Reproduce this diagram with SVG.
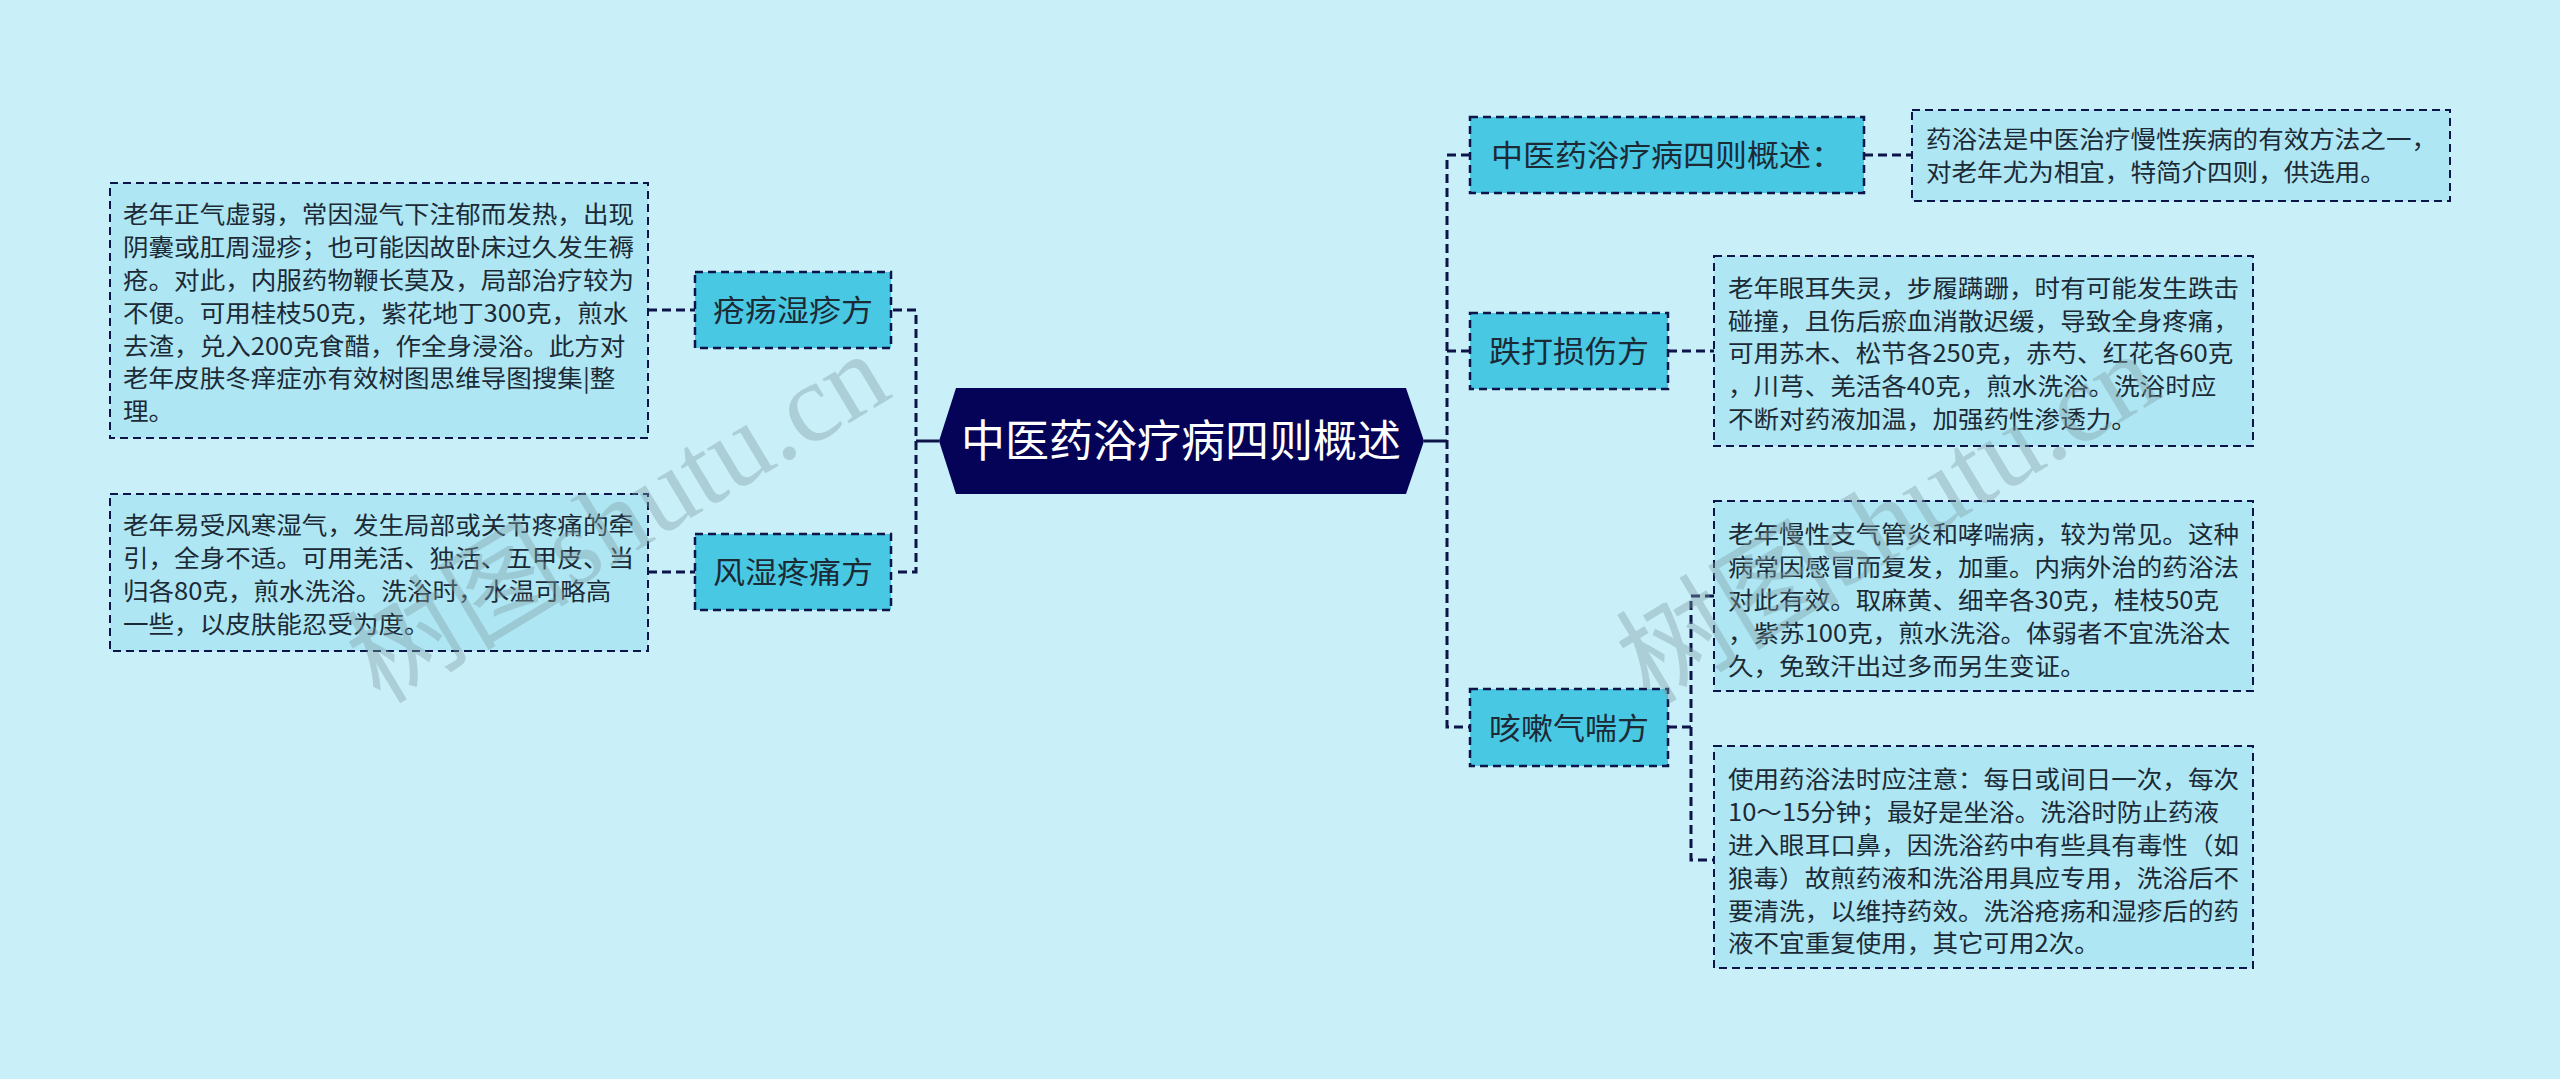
<svg xmlns="http://www.w3.org/2000/svg" width="2560" height="1079" viewBox="0 0 2560 1079">
<style>
.bg{fill:#c9eff8}
.box{fill:#aee6f3;stroke:#0c1449;stroke-width:2;stroke-dasharray:8 5}
.node{fill:#48c8e3;stroke:#0c1449;stroke-width:2.5;stroke-dasharray:8 5}
.desc{font-family:"Noto Sans CJK SC","Noto Sans",sans-serif;font-size:24px;fill:#1c2a36}
.ntxt{font-family:"Noto Sans CJK SC","Noto Sans",sans-serif;font-size:30px;fill:#1c2a36;text-anchor:middle}
.ttl{font-family:"Noto Sans CJK SC","Noto Sans",sans-serif;font-size:44px;fill:#ffffff;text-anchor:middle}
.dash{fill:none;stroke:#0c1449;stroke-width:3;stroke-dasharray:9 5}
.solid{fill:none;stroke:#0c1449;stroke-width:3}
.wm{font-family:"Liberation Serif","Noto Sans CJK SC",serif;font-size:112px;fill:#7f9ea6;opacity:0.4}
</style>
<rect class="bg" x="0" y="0" width="2560" height="1079"/>

<g id="connectors">
<path class="solid" d="M939,441 H916"/>
<path class="dash" d="M893,310 H916 V572 H893"/>
<path class="dash" d="M648,310 H695"/>
<path class="dash" d="M648,572 H695"/>
<path class="solid" d="M1424,441 H1447"/>
<path class="dash" d="M1470,155 H1447 V727 H1470"/>
<path class="dash" d="M1447,351 H1470"/>
<path class="dash" d="M1864,155 H1912"/>
<path class="dash" d="M1668,351 H1714"/>
<path class="dash" d="M1668,727 H1691"/>
<path class="dash" d="M1714,596 H1691 V860 H1714"/>
</g>

<g id="root">
<polygon points="956,388 1406,388 1424,441 1406,494 956,494 939,441" fill="#050357"/>
<text class="ttl" x="1181" y="457">中医药浴疗病四则概述</text>
</g>

<g id="n-chuangyang">
<rect class="node" x="695" y="272" width="196" height="76"/>
<text class="ntxt" transform="translate(793,0) scale(1.067,1)" x="0" y="321">疮疡湿疹方</text>
</g>
<g id="n-fengshi">
<rect class="node" x="695" y="534" width="196" height="76"/>
<text class="ntxt" transform="translate(793,0) scale(1.067,1)" x="0" y="583">风湿疼痛方</text>
</g>
<g id="n-gaishu">
<rect class="node" x="1470" y="117" width="394" height="76"/>
<text class="ntxt" transform="translate(1667,0) scale(1.067,1)" x="0" y="166">中医药浴疗病四则概述：</text>
</g>
<g id="n-dieda">
<rect class="node" x="1470" y="313" width="198" height="76"/>
<text class="ntxt" transform="translate(1569,0) scale(1.067,1)" x="0" y="362">跌打损伤方</text>
</g>
<g id="n-kesou">
<rect class="node" x="1470" y="689" width="198" height="77"/>
<text class="ntxt" transform="translate(1569,0) scale(1.067,1)" x="0" y="739">咳嗽气喘方</text>
</g>

<g id="d-chuangyang">
<rect class="box" x="110" y="183" width="538" height="255"/>
<text class="desc" transform="translate(123,0) scale(1.065,1)">
<tspan x="0" y="223.4">老年正气虚弱，常因湿气下注郁而发热，出现</tspan>
<tspan x="0" y="256.2">阴囊或肛周湿疹；也可能因故卧床过久发生褥</tspan>
<tspan x="0" y="289">疮。对此，内服药物鞭长莫及，局部治疗较为</tspan>
<tspan x="0" y="321.8">不便。可用桂枝50克，紫花地丁300克，煎水</tspan>
<tspan x="0" y="354.6">去渣，兑入200克食醋，作全身浸浴。此方对</tspan>
<tspan x="0" y="387.4">老年皮肤冬痒症亦有效树图思维导图搜集|整</tspan>
<tspan x="0" y="420.2">理。</tspan>
</text>
</g>
<g id="d-fengshi">
<rect class="box" x="110" y="494" width="538" height="157"/>
<text class="desc" transform="translate(123,0) scale(1.065,1)">
<tspan x="0" y="534.3">老年易受风寒湿气，发生局部或关节疼痛的牵</tspan>
<tspan x="0" y="567.1">引，全身不适。可用羌活、独活、五甲皮、当</tspan>
<tspan x="0" y="599.9">归各80克，煎水洗浴。洗浴时，水温可略高</tspan>
<tspan x="0" y="632.7">一些，以皮肤能忍受为度。</tspan>
</text>
</g>
<g id="d-gaishu">
<rect class="box" x="1912" y="110" width="538" height="91"/>
<text class="desc" transform="translate(1926,0) scale(1.065,1)">
<tspan x="0" y="148.5">药浴法是中医治疗慢性疾病的有效方法之一，</tspan>
<tspan x="0" y="181.3">对老年尤为相宜，特简介四则，供选用。</tspan>
</text>
</g>
<g id="d-dieda">
<rect class="box" x="1714" y="256" width="539" height="190"/>
<text class="desc" transform="translate(1728,0) scale(1.065,1)">
<tspan x="0" y="296.9">老年眼耳失灵，步履蹒跚，时有可能发生跌击</tspan>
<tspan x="0" y="329.7">碰撞，且伤后瘀血消散迟缓，导致全身疼痛，</tspan>
<tspan x="0" y="362.5">可用苏木、松节各250克，赤芍、红花各60克</tspan>
<tspan x="0" y="395.3">，川芎、羌活各40克，煎水洗浴。洗浴时应</tspan>
<tspan x="0" y="428.1">不断对药液加温，加强药性渗透力。</tspan>
</text>
</g>
<g id="d-kesou1">
<rect class="box" x="1714" y="501" width="539" height="190"/>
<text class="desc" transform="translate(1728,0) scale(1.065,1)">
<tspan x="0" y="543.5">老年慢性支气管炎和哮喘病，较为常见。这种</tspan>
<tspan x="0" y="576.3">病常因感冒而复发，加重。内病外治的药浴法</tspan>
<tspan x="0" y="609.1">对此有效。取麻黄、细辛各30克，桂枝50克</tspan>
<tspan x="0" y="641.9">，紫苏100克，煎水洗浴。体弱者不宜洗浴太</tspan>
<tspan x="0" y="674.7">久，免致汗出过多而另生变证。</tspan>
</text>
</g>
<g id="d-kesou2">
<rect class="box" x="1714" y="746" width="539" height="222"/>
<text class="desc" transform="translate(1728,0) scale(1.065,1)">
<tspan x="0" y="788.5">使用药浴法时应注意：每日或间日一次，每次</tspan>
<tspan x="0" y="821.3">10～15分钟；最好是坐浴。洗浴时防止药液</tspan>
<tspan x="0" y="854.1">进入眼耳口鼻，因洗浴药中有些具有毒性（如</tspan>
<tspan x="0" y="886.9">狼毒）故煎药液和洗浴用具应专用，洗浴后不</tspan>
<tspan x="0" y="919.7">要清洗，以维持药效。洗浴疮疡和湿疹后的药</tspan>
<tspan x="0" y="952.5">液不宜重复使用，其它可用2次。</tspan>
</text>
</g>

<g id="watermarks">
<text class="wm" transform="translate(380,705) rotate(-31)">树图shutu.cn</text>
<text class="wm" transform="translate(1650,705) rotate(-31)">树图shutu.cn</text>
</g>
</svg>
